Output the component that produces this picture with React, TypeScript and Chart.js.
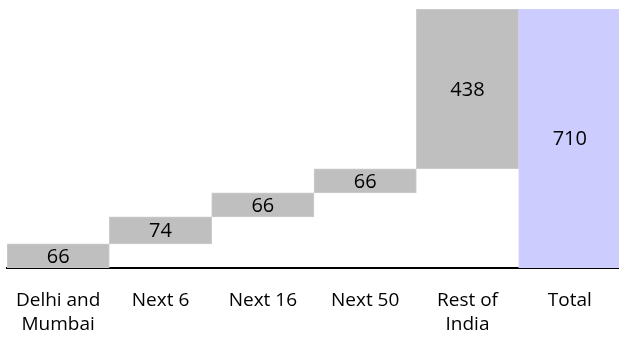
import React, { useEffect, useRef } from "react";
import { Chart, registerables } from "chart.js";

Chart.register(...registerables);

const categories: (string | string[])[] = [["Delhi and", "Mumbai"], "Next 6", "Next 16", "Next 50", ["Rest of", "India"], "Total"];
const increments: number[] = [66, 74, 66, 66, 438];
const totalValue = 710;
const yMax = 710;

const FONT = "'Open Sans', 'Liberation Sans', sans-serif";

export default function App() {
  const ref = useRef<HTMLCanvasElement | null>(null);

  useEffect(() => {
    if (!ref.current) return;
    const floating: [number, number][] = [];
    const shown: number[] = [];
    let acc = 0;
    increments.forEach((v) => {
      floating.push([acc, acc + v]);
      shown.push(v);
      acc += v;
    });
    floating.push([0, totalValue]);
    shown.push(totalValue);

    const bg = categories.map((_, i) => (i === categories.length - 1 ? "#CCCCFF" : "#BFBFBF"));
    const bd = categories.map((_, i) => (i === categories.length - 1 ? "#D2D2FF" : "#CCCCCC"));

    const valueLabels = {
      id: "valueLabels",
      afterDatasetsDraw(chart: any) {
        const ctx = chart.ctx;
        const meta = chart.getDatasetMeta(0);
        ctx.save();
        ctx.font = `20px ${FONT}`;
        ctx.fillStyle = "#000";
        ctx.textAlign = "center";
        ctx.textBaseline = "middle";
        meta.data.forEach((el: any, i: number) => {
          const y = (el.y + el.base) / 2;
          ctx.fillText(String(shown[i]), el.x, y + 1);
        });
        ctx.restore();
      },
    };

    const chart = new Chart(ref.current, {
      type: "bar",
      data: {
        labels: categories,
        datasets: [
          {
            data: floating as any,
            backgroundColor: bg,
            borderColor: bd,
            borderWidth: 1,
            borderSkipped: false,
            categoryPercentage: 1,
            barPercentage: 1,
          },
        ],
      },
      options: {
        animation: false,
        responsive: false,
        maintainAspectRatio: false,
        layout: { padding: { left: 7, right: 4, top: 9, bottom: 0 } },
        plugins: { legend: { display: false }, tooltip: { enabled: false } },
        scales: {
          x: {
            grid: { display: false, drawTicks: false },
            border: { display: true, color: "#000", width: 2 },
            ticks: {
              color: "#000",
              font: { family: FONT, size: 19, lineHeight: 1.3 },
              padding: 20,
              maxRotation: 0,
              autoSkip: false,
            },
            afterFit(scale: any) {
              scale.height = 74;
              scale.paddingLeft = 0;
              scale.paddingRight = 0;
            },
          },
          y: {
            display: false,
            min: 0,
            max: yMax,
          },
        },
      },
      plugins: [valueLabels],
    });
    return () => chart.destroy();
  }, []);

  return (
    <div style={{ position: "fixed", left: 0, top: 0, width: 625, height: 342, background: "#fff" }}>
      <canvas ref={ref} width={625} height={342} style={{ width: 625, height: 342 }} />
    </div>
  );
}
